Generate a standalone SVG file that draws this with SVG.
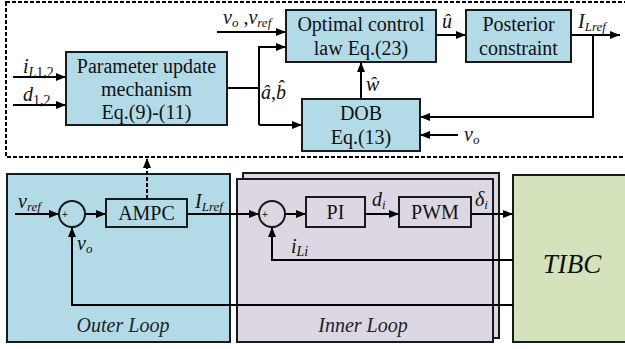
<svg xmlns="http://www.w3.org/2000/svg" width="625" height="349" viewBox="0 0 625 349" font-family="'Liberation Serif', 'DejaVu Serif', serif">
  <defs>
    <marker id="arr" viewBox="0 0 10 10" refX="10" refY="5" markerWidth="10" markerHeight="10" markerUnits="userSpaceOnUse" orient="auto">
      <path d="M0,1 L10,5 L0,9 Z" fill="#000"/>
    </marker>
    <style>
      .blk { fill: #b3dbe7; stroke: #1a1a1a; stroke-width: 2; }
      .plain { fill: none; stroke: #1a1a1a; stroke-width: 2; }
      .sum { fill: none; stroke: #1a1a1a; stroke-width: 2; }
      .ln { fill: none; stroke: #000; stroke-width: 2; }
      .t { font-family: 'Liberation Serif', 'DejaVu Serif', serif; font-size: 20px; fill: #111; text-anchor: middle; }
      .m { font-family: 'Liberation Serif', 'DejaVu Serif', serif; font-style: italic; fill: #111; }
      .sg { font-family: 'Liberation Sans', sans-serif; font-size: 10px; fill: #222; }
      .lbl { font-family: 'Liberation Serif', 'DejaVu Serif', serif; font-style: italic; font-size: 20px; fill: #222; text-anchor: middle; }
    </style>
  </defs>

  <!-- adaptive MPC detail frame -->
  <rect x="6" y="2" width="630" height="155" fill="none" stroke="#000" stroke-width="2" stroke-dasharray="4,2"/>

  <!-- loop backgrounds -->
  <g id="outer-loop">
    <rect x="7" y="174" width="223" height="168" fill="#b3dbe7" stroke="#1a1a1a" stroke-width="2"/>
    <text class="lbl" x="123" y="332">Outer Loop</text>
  </g>
  <g id="inner-loop">
    <rect x="243" y="173" width="256" height="165" fill="#dcd7e3" stroke="#1a1a1a" stroke-width="2"/>
    <rect x="237" y="179" width="256" height="163" fill="#dcd7e3" stroke="#1a1a1a" stroke-width="2"/>
    <text class="lbl" x="363" y="332">Inner Loop</text>
  </g>
  <g id="tibc">
    <rect x="513" y="175" width="130" height="167" fill="#d5e3bd" stroke="#1a1a1a" stroke-width="2"/>
    <text class="m" x="572" y="273" font-size="27" text-anchor="middle">TIBC</text>
  </g>

  <!-- top blocks -->
  <g id="param-update">
    <rect class="blk" x="66" y="52" width="161" height="73"/>
    <text class="t" x="146.5" y="73">Parameter update</text>
    <text class="t" x="146.5" y="96">mechanism</text>
    <text class="t" x="146.5" y="119">Eq.(9)-(11)</text>
  </g>
  <g id="optimal-law">
    <rect class="blk" x="286" y="10" width="150" height="52"/>
    <text class="t" x="361" y="31">Optimal control</text>
    <text class="t" x="361" y="55">law Eq.(23)</text>
  </g>
  <g id="posterior">
    <rect class="blk" x="466" y="10" width="105" height="52"/>
    <text class="t" x="518.5" y="31">Posterior</text>
    <text class="t" x="518.5" y="55">constraint</text>
  </g>
  <g id="dob">
    <rect class="blk" x="302" y="99" width="118" height="52"/>
    <text class="t" x="361" y="120">DOB</text>
    <text class="t" x="361" y="144">Eq.(13)</text>
  </g>

  <!-- bottom blocks -->
  <g id="sum-outer">
    <circle class="sum" cx="72" cy="214" r="13"/>
    <text class="sg" x="62" y="218">+</text>
    <text class="sg" x="70" y="226">_</text>
  </g>
  <g id="ampc">
    <rect class="plain" x="106" y="199" width="81" height="28"/>
    <text class="t" x="146.5" y="220">AMPC</text>
  </g>
  <g id="sum-inner">
    <circle class="sum" cx="272" cy="214" r="13"/>
    <text class="sg" x="262" y="218">+</text>
    <text class="sg" x="270" y="226">_</text>
  </g>
  <g id="pi">
    <rect class="plain" x="306" y="197" width="59" height="30"/>
    <text class="t" x="335.5" y="219">PI</text>
  </g>
  <g id="pwm">
    <rect class="plain" x="399" y="197" width="72" height="30"/>
    <text class="t" x="435" y="219">PWM</text>
  </g>

  <!-- connectors -->
  <g id="connectors">
    <line class="ln" x1="13" y1="77" x2="66" y2="77" marker-end="url(#arr)"/>
    <line class="ln" x1="13" y1="105" x2="66" y2="105" marker-end="url(#arr)"/>
    <polyline class="ln" points="227,88 259,88"/>
    <polyline class="ln" points="259,125 259,47 286,47" marker-end="url(#arr)"/>
    <line class="ln" x1="259" y1="125" x2="302" y2="125" marker-end="url(#arr)"/>
    <line class="ln" x1="217" y1="32" x2="286" y2="32" marker-end="url(#arr)"/>
    <line class="ln" x1="436" y1="35" x2="466" y2="35" marker-end="url(#arr)"/>
    <line class="ln" x1="571" y1="35" x2="620" y2="35" marker-end="url(#arr)"/>
    <polyline class="ln" points="593,35 593,117 420,117" marker-end="url(#arr)"/>
    <line class="ln" x1="458" y1="135" x2="420" y2="135" marker-end="url(#arr)"/>
    <line class="ln" x1="361" y1="99" x2="361" y2="62" marker-end="url(#arr)"/>
    <line class="ln" x1="147" y1="199" x2="147" y2="158" stroke-dasharray="4,2" marker-end="url(#arr)"/>

    <line class="ln" x1="15" y1="214" x2="59" y2="214" marker-end="url(#arr)"/>
    <line class="ln" x1="85" y1="214" x2="106" y2="214" marker-end="url(#arr)"/>
    <line class="ln" x1="187" y1="214" x2="259" y2="214" marker-end="url(#arr)"/>
    <line class="ln" x1="285" y1="214" x2="306" y2="214" marker-end="url(#arr)"/>
    <line class="ln" x1="365" y1="214" x2="399" y2="214" marker-end="url(#arr)"/>
    <line class="ln" x1="471" y1="214" x2="513" y2="214" marker-end="url(#arr)"/>
    <polyline class="ln" points="513,260 272,260 272,227" marker-end="url(#arr)"/>
    <polyline class="ln" points="513,305 72,305 72,227" marker-end="url(#arr)"/>
  </g>

  <!-- signal labels -->
  <g id="labels" class="m" font-size="20">
    <text x="23" y="73">i<tspan font-size="14" dy="4">L</tspan><tspan font-style="normal" font-size="14">1,2</tspan></text>
    <text x="23" y="101">d<tspan font-style="normal" font-size="14" dy="4">1,2</tspan></text>
    <text x="223" y="24">v<tspan font-size="13" dy="3">o</tspan><tspan font-style="normal" dy="-3"> ,</tspan>v<tspan font-size="13" dy="3">ref</tspan></text>
    <text x="261" y="99">â<tspan font-style="normal">,</tspan>b̂</text>
    <text x="442" y="28">û</text>
    <text x="578" y="28">I<tspan font-size="13" dy="3">Lref</tspan></text>
    <text x="366" y="91">ŵ</text>
    <text x="464" y="141">v<tspan font-size="13" dy="3">o</tspan></text>

    <text x="18" y="208">v<tspan font-size="13" dy="3">ref</tspan></text>
    <text x="77" y="250">v<tspan font-size="13" dy="3">o</tspan></text>
    <text x="195" y="208">I<tspan font-size="13" dy="3">Lref</tspan></text>
    <text x="291" y="253">i<tspan font-size="14" dy="3">Li</tspan></text>
    <text x="372" y="206">d<tspan font-size="13" dy="3">i</tspan></text>
    <text x="475" y="206">δ<tspan font-size="13" dy="3">i</tspan></text>
  </g>
</svg>
